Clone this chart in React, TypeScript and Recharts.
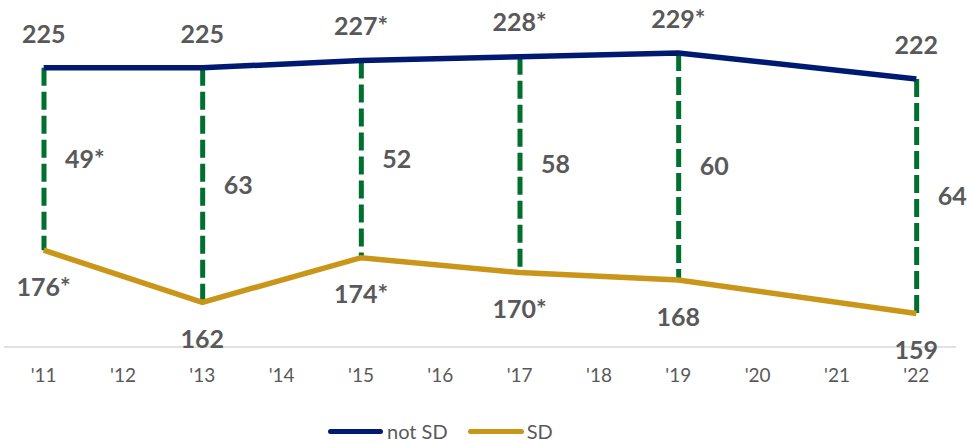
import React from "react";
import { ComposedChart, Line, Bar, XAxis, YAxis, LabelList } from "recharts";

const years = ["'11", "'12", "'13", "'14", "'15", "'16", "'17", "'18", "'19", "'20", "'21", "'22"];
const notSD = [225, null, 225, null, 227, null, 228, null, 229, null, null, 222];
const sd = [176, null, 162, null, 174, null, 170, null, 168, null, null, 159];
const notSDLabels = ["225", "", "225", "", "227*", "", "228*", "", "229*", "", "", "222"];
const sdLabels = ["176*", "", "162", "", "174*", "", "170*", "", "168", "", "", "159"];
const gapLabels = ["49*", "", "63", "", "52", "", "58", "", "60", "", "", "64"];

const NAVY = "#001A72";
const GOLD = "#C9961A";
const GREEN = "#00702E";
const TEXT = "#595959";
const FONT = "Lato, 'Open Sans', sans-serif";

const data = years.map((y, i) => ({
  year: y,
  notSD: notSD[i],
  sd: sd[i],
  range: notSD[i] != null && sd[i] != null ? [sd[i], notSD[i]] : null,
  notSDLabel: notSDLabels[i],
  sdLabel: sdLabels[i],
  gapLabel: gapLabels[i],
}));

const DashShape = (props: any) => {
  const { x, y, width, height } = props;
  if (x == null || height == null || !isFinite(height)) return null;
  const cx = x + width / 2;
  return (
    <line x1={cx} x2={cx} y1={y} y2={y + height} stroke={GREEN} strokeWidth={5} strokeDasharray="18 6" />
  );
};

const GapLabel = (props: any) => {
  const { x, y, width, height, value } = props;
  if (!value) return null;
  return (
    <text x={x + width / 2 + 21} y={y + height / 2} dy="0.35em" textAnchor="start" fill={TEXT}
      fontSize={25} fontWeight={700} fontFamily={FONT}>{value}</text>
  );
};

const TopLabel = (props: any) => {
  const { x, y, value } = props;
  if (!value) return null;
  return (
    <text x={x} y={y - 34} dy="0.35em" textAnchor="middle" fill={TEXT}
      fontSize={25} fontWeight={700} fontFamily={FONT}>{value}</text>
  );
};

const BottomLabel = (props: any) => {
  const { x, y, value } = props;
  if (!value) return null;
  return (
    <text x={x} y={y + 37} dy="0.35em" textAnchor="middle" fill={TEXT}
      fontSize={25} fontWeight={700} fontFamily={FONT}>{value}</text>
  );
};

export default function App() {
  return (
    <div style={{ position: "absolute", left: 0, top: 0, width: 970, height: 442, background: "#fff", overflow: "hidden" }}>
      <ComposedChart width={970} height={442} data={data}
        margin={{ top: 12, right: 14, bottom: 65, left: 4 }}>
        <XAxis dataKey="year" height={30} axisLine={{ stroke: "#D9D9D9", strokeWidth: 1.5 }} tickLine={false}
          tickSize={0} tickMargin={22}
          tick={{ fill: TEXT, fontSize: 19, fontFamily: FONT }} interval={0} />
        <YAxis hide width={0} domain={[150, 240]} type="number" />
        <Bar dataKey="range" shape={<DashShape />} isAnimationActive={false} barSize={10}>
          <LabelList dataKey="gapLabel" content={<GapLabel />} />
        </Bar>
        <Line dataKey="notSD" stroke={NAVY} strokeWidth={5.5} dot={false} connectNulls isAnimationActive={false}>
          <LabelList dataKey="notSDLabel" content={<TopLabel />} />
        </Line>
        <Line dataKey="sd" stroke={GOLD} strokeWidth={5.5} dot={false} connectNulls isAnimationActive={false}>
          <LabelList dataKey="sdLabel" content={<BottomLabel />} />
        </Line>
      </ComposedChart>
      <div style={{ position: "absolute", top: 421, left: 328, height: 20, display: "flex",
        alignItems: "center", fontFamily: FONT, fontSize: 20, color: TEXT, lineHeight: "20px" }}>
        <span style={{ display: "inline-block", width: 55, height: 5, borderRadius: 3, background: NAVY, marginRight: 4 }} />
        <span style={{ marginRight: 20 }}>not SD</span>
        <span style={{ display: "inline-block", width: 56, height: 5, borderRadius: 3, background: GOLD, marginRight: 3 }} />
        <span>SD</span>
      </div>
    </div>
  );
}
